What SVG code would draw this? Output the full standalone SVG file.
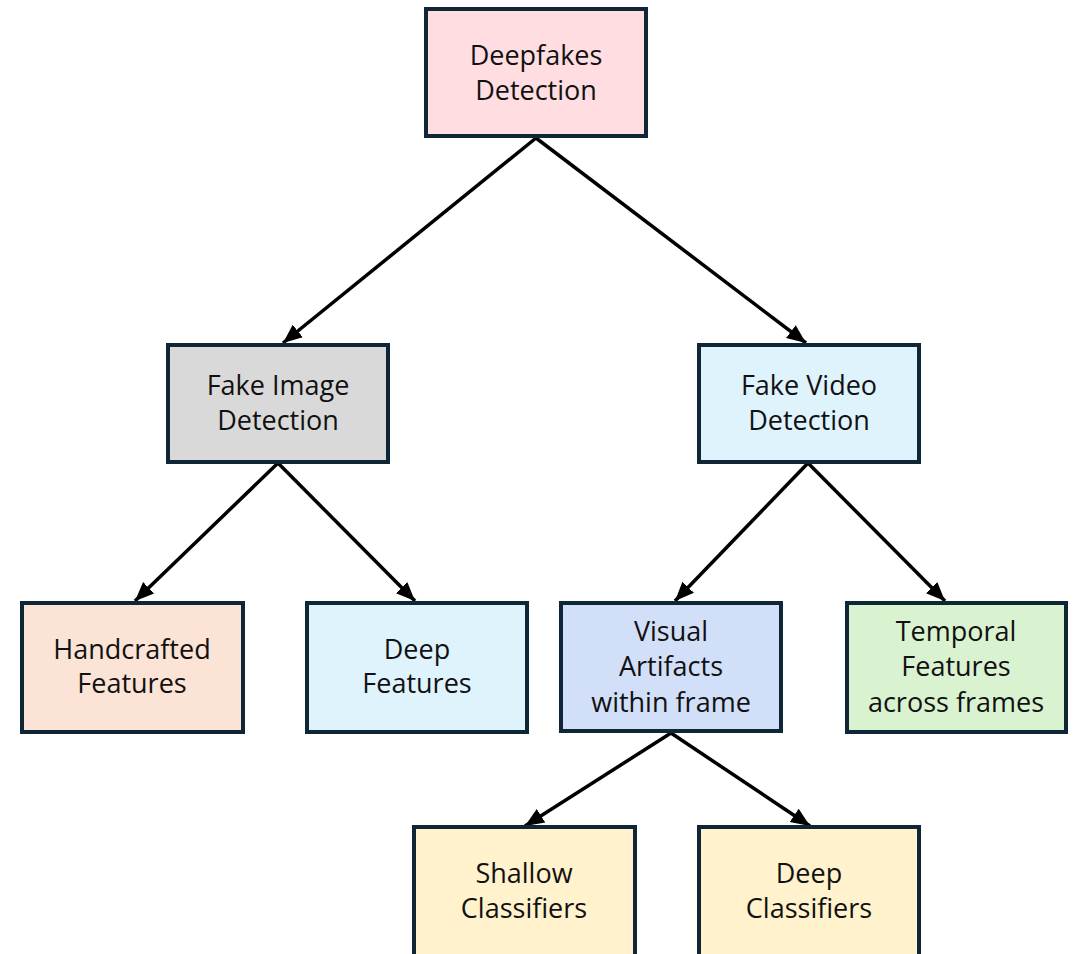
<svg xmlns="http://www.w3.org/2000/svg" width="1076" height="954" viewBox="0 0 1076 954">
<style>
.box{stroke:#0f2636;stroke-width:4}
.t{font-family:"Open Sans","Liberation Sans",sans-serif;font-size:27px;fill:#111;text-anchor:middle}
.c{stroke:#000;stroke-width:3.5;fill:none;marker-end:url(#ah)}
</style>
<defs>
<marker id="ah" markerUnits="userSpaceOnUse" markerWidth="22" markerHeight="22" viewBox="0 0 22 22" refX="19" refY="11" orient="auto">
<path d="M0,3 L19,11 L0,19 Z" fill="#000"/>
</marker>
</defs>
<rect width="1076" height="954" fill="#fff"/>
<g id="connectors">
<line class="c" x1="536" y1="138" x2="283" y2="343"/>
<line class="c" x1="536" y1="138" x2="806" y2="343"/>
<line class="c" x1="278" y1="463" x2="135" y2="601"/>
<line class="c" x1="278" y1="463" x2="415" y2="601"/>
<line class="c" x1="808" y1="463" x2="675" y2="601"/>
<line class="c" x1="808" y1="463" x2="945" y2="601"/>
<line class="c" x1="671" y1="733" x2="525" y2="826"/>
<line class="c" x1="671" y1="733" x2="810" y2="826"/>
</g>
<g id="deepfakes">
<rect class="box" x="426" y="9" width="220" height="127" fill="#ffdde1"/>
<text class="t" x="536" y="65">Deepfakes</text>
<text class="t" x="536" y="100">Detection</text>
</g>
<g id="fake-image">
<rect class="box" x="168" y="345" width="220" height="117" fill="#d9d9d9"/>
<text class="t" x="278" y="395">Fake Image</text>
<text class="t" x="278" y="430">Detection</text>
</g>
<g id="fake-video">
<rect class="box" x="699" y="345" width="220" height="117" fill="#dff3fd"/>
<text class="t" x="809" y="395">Fake Video</text>
<text class="t" x="809" y="430">Detection</text>
</g>
<g id="handcrafted">
<rect class="box" x="22" y="603" width="221" height="129" fill="#fbe3d6"/>
<text class="t" x="132" y="659">Handcrafted</text>
<text class="t" x="132" y="693">Features</text>
</g>
<g id="deep-features">
<rect class="box" x="307" y="603" width="220" height="129" fill="#dff3fd"/>
<text class="t" x="417" y="659">Deep</text>
<text class="t" x="417" y="693">Features</text>
</g>
<g id="visual-artifacts">
<rect class="box" x="561" y="603" width="220" height="128" fill="#d2dff8"/>
<text class="t" x="671" y="641">Visual</text>
<text class="t" x="671" y="676">Artifacts</text>
<text class="t" x="671" y="712">within frame</text>
</g>
<g id="temporal">
<rect class="box" x="847" y="603" width="219" height="129" fill="#d9f2d0"/>
<text class="t" x="956" y="641">Temporal</text>
<text class="t" x="956" y="676">Features</text>
<text class="t" x="956" y="712">across frames</text>
</g>
<g id="shallow">
<rect class="box" x="414" y="827" width="221" height="140" fill="#fff2cc"/>
<text class="t" x="524" y="883">Shallow</text>
<text class="t" x="524" y="918">Classifiers</text>
</g>
<g id="deep-classifiers">
<rect class="box" x="699" y="827" width="220" height="140" fill="#fff2cc"/>
<text class="t" x="809" y="883">Deep</text>
<text class="t" x="809" y="918">Classifiers</text>
</g>
</svg>
